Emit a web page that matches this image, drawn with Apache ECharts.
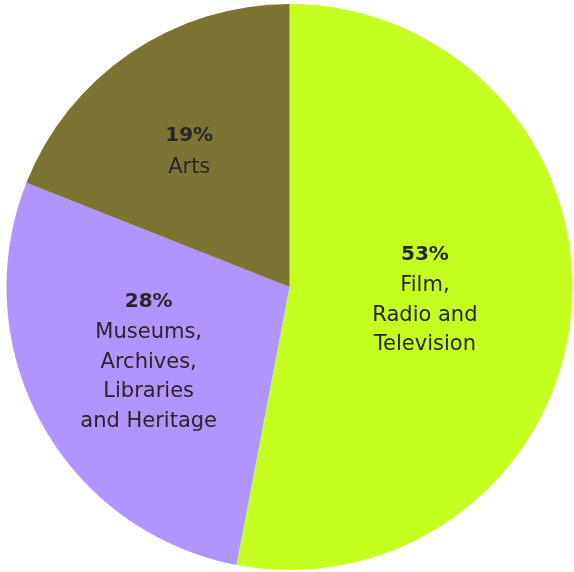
<!DOCTYPE html>
<html><head><meta charset="utf-8">
<script src="https://cdn.jsdelivr.net/npm/echarts@6/dist/echarts.min.js"></script>
<style>html,body{margin:0;padding:0;background:#fff}#c{width:574px;height:572px}</style>
</head><body><div id="c"></div>
<script>
const categories = ["Film,\nRadio and\nTelevision", "Museums,\nArchives,\nLibraries\nand Heritage", "Arts"];
const values = [53, 28, 19];
const colors = ["#c4ff1f", "#b094ff", "#7b7433"];
const labelRadius = [0.48, 0.56, 0.6];
const labelAngleShift = [-0.8, 1.5, -2];

const CX = 289.5, CY = 287, R = 283;
const total = values.reduce((a, b) => a + b, 0);
const mids = [];
let acc = 0;
values.forEach(v => { mids.push((acc + v / 2) / total * 2 * Math.PI); acc += v; });

const chart = echarts.init(document.getElementById('c'), null, {renderer: 'canvas'});
chart.setOption({
  animation: false,
  series: [{
    type: 'pie',
    center: [CX, CY],
    radius: R,
    startAngle: 90,
    clockwise: true,
    data: categories.map((c, i) => ({name: c, value: values[i], itemStyle: {color: colors[i]}})),
    label: {
      show: true,
      position: 'inside',
      formatter: '{p|{d}%}\n{n|{b}}',
      rich: {
        p: {fontFamily: 'DejaVu Sans', fontWeight: 'bold', fontSize: 20, color: '#2a2628', lineHeight: 33, align: 'center'},
        n: {fontFamily: 'DejaVu Sans', fontSize: 21, color: '#2a2628', lineHeight: 29.5, align: 'center'}
      }
    },
    labelLayout: function (p) {
      const i = p.dataIndex, a = mids[i] + labelAngleShift[i] * Math.PI / 180, f = labelRadius[i];
      return {x: CX + Math.sin(a) * R * f, y: CY - Math.cos(a) * R * f + 1};
    },
    labelLine: {show: false},
    emphasis: {disabled: true}
  }]
});
</script></body></html>
